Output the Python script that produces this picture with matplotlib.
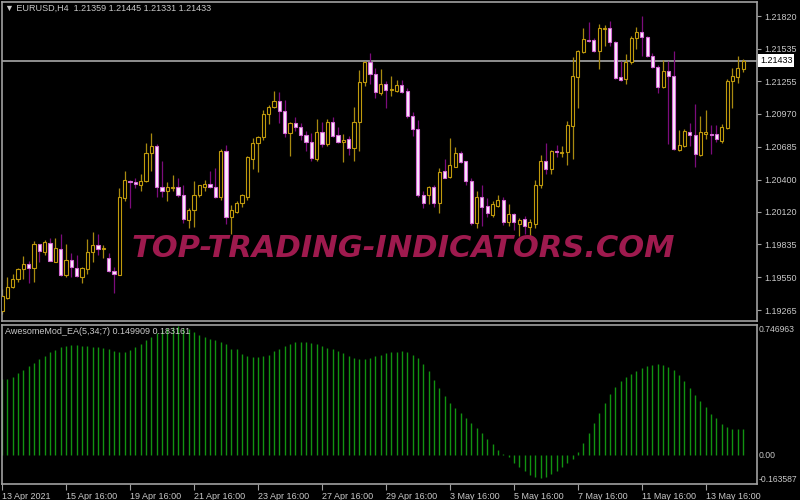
import matplotlib.pyplot as plt
import matplotlib.transforms as mtransforms
import numpy as np

# EURUSD H4 candles, 13 Apr 2021 16:00 onwards
opens = [1.19257, 1.19371, 1.19467, 1.19537, 1.19624, 1.19667, 1.19632, 1.19842, 1.19773, 1.19851,
         1.19685, 1.19799, 1.19571, 1.19702, 1.19632, 1.19554, 1.19624, 1.19773, 1.19833, 1.19799,
         1.19720, 1.19606, 1.19571, 1.20235, 1.20391, 1.20374, 1.20348, 1.20383, 1.20627, 1.20688,
         1.20339, 1.20296, 1.20330, 1.20339, 1.20269, 1.20051, 1.20138, 1.20269, 1.20339, 1.20365,
         1.20339, 1.20252, 1.20645, 1.20077, 1.20121, 1.20200, 1.20252, 1.20574, 1.20714, 1.20766,
         1.20966, 1.21028, 1.21080, 1.20993, 1.20801, 1.20888, 1.20853, 1.20784, 1.20723, 1.20574,
         1.20810, 1.20705, 1.20897, 1.20784, 1.20723, 1.20749, 1.20670, 1.20897, 1.21246, 1.21420,
         1.21316, 1.21150, 1.21228, 1.21176, 1.21167, 1.21220, 1.21167, 1.20949, 1.20836, 1.20261,
         1.20261, 1.20339, 1.20200, 1.20470, 1.20426, 1.20513, 1.20627, 1.20557, 1.20391, 1.20025,
         1.20252, 1.20174, 1.20095, 1.20174, 1.20226, 1.20034, 1.20104, 1.20016, 1.20060, 1.19990,
         1.20016, 1.20356, 1.20565, 1.20487, 1.20645, 1.20627, 1.20636, 1.20862, 1.21289, 1.21507,
         1.21612, 1.21612, 1.21516, 1.21708, 1.21717, 1.21595, 1.21289, 1.21272, 1.21420, 1.21630,
         1.21682, 1.21639, 1.21473, 1.21377, 1.21202, 1.21342, 1.21298, 1.20653, 1.20688, 1.20810,
         1.20784, 1.20609, 1.20792, 1.20792, 1.20792, 1.20731, 1.20845, 1.21255, 1.21289, 1.21359]
highs = [1.19450, 1.19554, 1.19580, 1.19632, 1.19738, 1.19693, 1.19868, 1.19842, 1.19877, 1.19894,
         1.19894, 1.19929, 1.19842, 1.19764, 1.19746, 1.19641, 1.19886, 1.19947, 1.19929, 1.19833,
         1.19764, 1.19641, 1.20330, 1.20478, 1.20400, 1.20409, 1.20452, 1.20714, 1.20801, 1.20705,
         1.20565, 1.20374, 1.20435, 1.20417, 1.20348, 1.20156, 1.20391, 1.20356, 1.20400, 1.20470,
         1.20496, 1.20662, 1.20697, 1.20182, 1.20209, 1.20278, 1.20601, 1.20758, 1.20775, 1.21002,
         1.21045, 1.21167, 1.21159, 1.21089, 1.20897, 1.20940, 1.20888, 1.20818, 1.20801, 1.20923,
         1.20897, 1.20923, 1.20940, 1.20853, 1.20792, 1.20775, 1.21028, 1.21350, 1.21429, 1.21499,
         1.21368, 1.21359, 1.21255, 1.21298, 1.21263, 1.21263, 1.21194, 1.20984, 1.20914, 1.20304,
         1.20345, 1.20356, 1.20496, 1.20574, 1.20758, 1.20679, 1.20645, 1.20560, 1.20409, 1.20304,
         1.20356, 1.20235, 1.20209, 1.20269, 1.20244, 1.20191, 1.20112, 1.20069, 1.20086, 1.20060,
         1.20400, 1.20609, 1.20714, 1.20653, 1.20697, 1.20688, 1.20906, 1.21464, 1.21525, 1.21717,
         1.21769, 1.21630, 1.21752, 1.21743, 1.21778, 1.21600, 1.21429, 1.21490, 1.21647, 1.21726,
         1.21821, 1.21647, 1.21499, 1.21394, 1.21438, 1.21429, 1.21516, 1.20827, 1.20836, 1.20888,
         1.21054, 1.20949, 1.21002, 1.20871, 1.20871, 1.20880, 1.21272, 1.21368, 1.21473, 1.21445]
lows = [1.19231, 1.19363, 1.19458, 1.19511, 1.19537, 1.19502, 1.19511, 1.19685, 1.19746, 1.19690,
        1.19680, 1.19563, 1.19554, 1.19554, 1.19550, 1.19502, 1.19580, 1.19685, 1.19746, 1.19720,
        1.19598, 1.19415, 1.19571, 1.20209, 1.20148, 1.20322, 1.20304, 1.20374, 1.20470, 1.20252,
        1.20244, 1.20209, 1.20296, 1.20244, 1.20025, 1.19981, 1.19990, 1.20244, 1.20296, 1.20322,
        1.20235, 1.20218, 1.20016, 1.19929, 1.20112, 1.20165, 1.20218, 1.20487, 1.20461, 1.20740,
        1.20880, 1.21020, 1.20888, 1.20766, 1.20601, 1.20818, 1.20740, 1.20645, 1.20557, 1.20557,
        1.20679, 1.20688, 1.20766, 1.20714, 1.20548, 1.20609, 1.20557, 1.20645, 1.21211, 1.21228,
        1.21106, 1.21132, 1.21019, 1.21124, 1.21159, 1.21150, 1.20932, 1.20775, 1.20244, 1.20156,
        1.20191, 1.20165, 1.20112, 1.20409, 1.20417, 1.20505, 1.20540, 1.20356, 1.20007, 1.19981,
        1.19999, 1.20077, 1.20077, 1.20165, 1.20007, 1.19999, 1.19964, 1.19912, 1.19929, 1.19912,
        1.19981, 1.20330, 1.20444, 1.20452, 1.20592, 1.20592, 1.20522, 1.20574, 1.21019, 1.21499,
        1.21595, 1.21507, 1.21359, 1.21560, 1.21560, 1.21272, 1.21255, 1.21228, 1.21403, 1.21534,
        1.21473, 1.21464, 1.21368, 1.21150, 1.21194, 1.20705, 1.20653, 1.20645, 1.20679, 1.20688,
        1.20505, 1.20601, 1.20749, 1.20618, 1.20723, 1.20714, 1.20836, 1.21019, 1.21237, 1.21331]
closes = [1.19389, 1.19467, 1.19537, 1.19624, 1.19667, 1.19632, 1.19842, 1.19781, 1.19860, 1.19693,
          1.19807, 1.19571, 1.19702, 1.19641, 1.19563, 1.19632, 1.19773, 1.19833, 1.19799, 1.19807,
          1.19606, 1.19580, 1.20252, 1.20400, 1.20374, 1.20365, 1.20391, 1.20627, 1.20688, 1.20339,
          1.20296, 1.20339, 1.20339, 1.20269, 1.20060, 1.20138, 1.20269, 1.20348, 1.20365, 1.20339,
          1.20252, 1.20645, 1.20077, 1.20138, 1.20200, 1.20261, 1.20592, 1.20714, 1.20766, 1.20966,
          1.21028, 1.21080, 1.20993, 1.20801, 1.20888, 1.20853, 1.20784, 1.20723, 1.20583, 1.20810,
          1.20705, 1.20897, 1.20775, 1.20723, 1.20740, 1.20670, 1.20897, 1.21246, 1.21420, 1.21316,
          1.21159, 1.21228, 1.21176, 1.21185, 1.21220, 1.21159, 1.20949, 1.20836, 1.20261, 1.20200,
          1.20339, 1.20200, 1.20461, 1.20417, 1.20522, 1.20627, 1.20548, 1.20391, 1.20025, 1.20252,
          1.20165, 1.20112, 1.20191, 1.20226, 1.20034, 1.20104, 1.20034, 1.20051, 1.19999, 1.20034,
          1.20356, 1.20565, 1.20487, 1.20645, 1.20636, 1.20636, 1.20871, 1.21298, 1.21516, 1.21621,
          1.21603, 1.21516, 1.21717, 1.21717, 1.21595, 1.21281, 1.21263, 1.21420, 1.21630, 1.21682,
          1.21639, 1.21473, 1.21377, 1.21202, 1.21342, 1.21298, 1.20662, 1.20697, 1.20818, 1.20784,
          1.20618, 1.20810, 1.20810, 1.20788, 1.20749, 1.20853, 1.21255, 1.21298, 1.21368, 1.21433]

# AwesomeMod_EA histogram values
ao = [0.436, 0.440, 0.452, 0.470, 0.492, 0.510, 0.530, 0.552, 0.570, 0.590,
      0.606, 0.620, 0.628, 0.632, 0.632, 0.628, 0.624, 0.622, 0.622, 0.618,
      0.612, 0.598, 0.590, 0.594, 0.606, 0.622, 0.636, 0.660, 0.680, 0.700,
      0.721, 0.731, 0.735, 0.739, 0.731, 0.723, 0.705, 0.689, 0.677, 0.665,
      0.659, 0.647, 0.636, 0.612, 0.608, 0.582, 0.568, 0.562, 0.562, 0.568,
      0.574, 0.596, 0.612, 0.628, 0.640, 0.648, 0.652, 0.652, 0.644, 0.636,
      0.628, 0.618, 0.612, 0.600, 0.586, 0.572, 0.558, 0.550, 0.550, 0.556,
      0.568, 0.576, 0.584, 0.590, 0.592, 0.596, 0.592, 0.576, 0.560, 0.524,
      0.482, 0.434, 0.388, 0.340, 0.300, 0.272, 0.244, 0.216, 0.188, 0.158,
      0.126, 0.092, 0.064, 0.032, 0.008, -0.008, -0.042, -0.064, -0.092, -0.112,
      -0.122, -0.128, -0.124, -0.104, -0.092, -0.068, -0.044, -0.018, 0.022, 0.072,
      0.128, 0.188, 0.244, 0.300, 0.352, 0.392, 0.424, 0.448, 0.468, 0.486,
      0.502, 0.512, 0.520, 0.522, 0.520, 0.508, 0.488, 0.460, 0.428, 0.388,
      0.348, 0.312, 0.276, 0.240, 0.212, 0.182, 0.162, 0.154, 0.152, 0.150]

price_ticks = [1.21820, 1.21535, 1.21255, 1.20970, 1.20685, 1.20400, 1.20120, 1.19835, 1.19550, 1.19265]
last_price = 1.21433
ao_ticks = [0.746963, 0.0, -0.163587]
ao_tick_labels = ["0.746963", "0.00", "-0.163587"]
time_labels = ["13 Apr 2021", "15 Apr 16:00", "19 Apr 16:00", "21 Apr 16:00", "23 Apr 16:00",
               "27 Apr 16:00", "29 Apr 16:00", "3 May 16:00", "5 May 16:00", "7 May 16:00",
               "11 May 16:00", "13 May 16:00"]
header = "\u25bc EURUSD,H4  1.21359 1.21445 1.21331 1.21433"
ind_header = "AwesomeMod_EA(5,34;7) 0.149909 0.183161"

BULL = '#c09a0c'
BULL_WICK = '#a88a10'
BEAR_EDGE = '#d468d4'
BEAR_FILL = '#fbecfb'
BEAR_WICK = '#7c0c7c'
TXT = '#c8c8c8'
FRAME = '#a0a0a0'
FONT = ['Liberation Sans', 'DejaVu Sans']

W, H = 800, 500
fig = plt.figure(figsize=(8, 5), dpi=100, facecolor='black')


def px_axes(x0, y0, x1, y1):
    return fig.add_axes([x0 / W, 1 - y1 / H, (x1 - x0) / W, (y1 - y0) / H])


ax = px_axes(2, 2, 757, 321)
ax2 = px_axes(2, 325, 757, 484)

o, h, l, c = (np.array(a) for a in (opens, highs, lows, closes))
x = np.arange(len(c))
up = c >= o

ax.vlines(x[up], l[up], h[up], color=BULL_WICK, lw=0.9, zorder=2)
ax.vlines(x[~up], l[~up], h[~up], color=BEAR_WICK, lw=0.9, zorder=2)
ax.bar(x[up], c[up] - o[up], bottom=o[up], width=0.6, facecolor='black',
       edgecolor=BULL, lw=0.8, zorder=3)
ax.bar(x[~up], o[~up] - c[~up], bottom=c[~up], width=0.6, facecolor=BEAR_FILL,
       edgecolor=BEAR_EDGE, lw=0.8, zorder=3)

ax.axhline(last_price, color='#9a9a9a', lw=1.3, zorder=1)
trans = mtransforms.blended_transform_factory(ax.transAxes, ax.transData)
ax.text(1.004, last_price, "1.21433", transform=trans, ha='left', va='center',
        color='black', fontsize=6.5, family=FONT,
        bbox=dict(facecolor='white', edgecolor='none', pad=1.3))

ax.text(0.532, 0.228, "TOP-TRADING-INDICATORS.COM", transform=ax.transAxes,
        ha='center', va='center', color='#9e1a4e', fontsize=22, fontweight='bold',
        fontstyle='italic', family=['DejaVu Sans'], zorder=10)

ax.set_xlim(0.0, 141.6)
ax.set_ylim(1.19170, 1.21943)
ax.set_xticks([])
ax.yaxis.tick_right()
ax.set_yticks(price_ticks)
ax.set_yticklabels([f"{p:.5f}" for p in price_ticks])

ax2.vlines(x, 0, ao, color='#119311', lw=1.0)
ax2.set_xlim(0.0, 141.6)
ax2.set_ylim(-0.163587, 0.746963)
ax2.yaxis.tick_right()
ax2.set_yticks(ao_ticks)
ax2.set_yticklabels(ao_tick_labels)
ax2.set_xticks(np.arange(0, 12 * len(time_labels), 12))
ax2.set_xticklabels(time_labels, ha='left')

for a in (ax, ax2):
    a.set_facecolor('black')
    for s in a.spines.values():
        s.set_color(FRAME)
        s.set_linewidth(1.2)
    a.tick_params(colors=FRAME, labelcolor=TXT, labelsize=6.5, length=3, width=0.8, pad=2)
    for lab in a.get_xticklabels() + a.get_yticklabels():
        lab.set_family(FONT)
ax2.tick_params(axis='x', length=4, pad=2)
ax2.tick_params(axis='y', length=0, pad=1, labelsize=6.2)
for lab, va in zip(ax2.get_yticklabels(), ['top', 'center', 'bottom']):
    lab.set_va(va)

fig.text(5 / W, 1 - 8 / H, header, ha='left', va='center', color=TXT, fontsize=6.5, family=FONT)
fig.text(5 / W, 1 - 331 / H, ind_header, ha='left', va='center', color=TXT, fontsize=6.5, family=FONT)

fig.savefig('out.png', dpi=100, facecolor='black')
